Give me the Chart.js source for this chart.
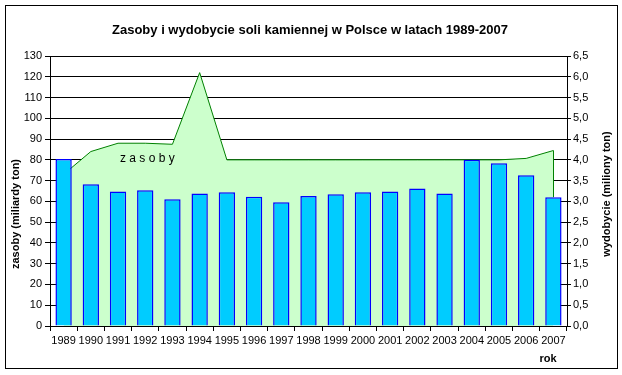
<!DOCTYPE html>
<html>
<head>
<meta charset="utf-8">
<script src="https://cdn.jsdelivr.net/npm/chart.js@4"></script>
<style>
  body { margin: 0; background: #fff; }
  #wrap { width: 622px; height: 375px; position: relative; }
</style>
</head>
<body>
<div id="wrap"><canvas id="myChart" width="622" height="375"></canvas></div>
<script>
// dane
var lata = ['1989','1990','1991','1992','1993','1994','1995','1996','1997','1998',
            '1999','2000','2001','2002','2003','2004','2005','2006','2007'];
// wydobycie, miliony ton (prawa os)
var wydobycie = [4.02, 3.41, 3.24, 3.27, 3.05, 3.19, 3.22, 3.11, 2.98, 3.13,
                 3.17, 3.22, 3.24, 3.31, 3.19, 4.0, 3.92, 3.63, 3.10];
// zasoby, miliardy ton (lewa os)
var zasoby = [73, 84, 88, 88, 87.5, 122, 80, 80, 80, 80,
              80, 80, 80, 80, 80, 80, 80, 80.7, 84.5];

var FONT = 'Arial, "Liberation Sans", sans-serif';

// ramka, tytuly osi, napis "z a s o b y"
var extras = {
  id: 'extras',
  afterDatasetsDraw(chart) {
    var c = chart.ctx, x = chart.scales.x, yL = chart.scales.yL, yR = chart.scales.yR;
    c.save();
    // pionowa krawedz obszaru przy 2007
    var n = zasoby.length - 1;
    var px = Math.round(x.getPixelForValue(n)) + 0.5;
    c.strokeStyle = '#008000';
    c.lineWidth = 1;
    c.beginPath();
    c.moveTo(px, yL.getPixelForValue(zasoby[n]));
    c.lineTo(px, yR.getPixelForValue(wydobycie[n]));
    c.stroke();

    c.fillStyle = '#000';
    c.font = '12px ' + FONT;
    c.textBaseline = 'middle';
    c.textAlign = 'left';
    c.fillText('z a s o b y', x.getPixelForValue(2) + 2, yL.getPixelForValue(80) - 1);
    c.restore();
  },
  afterDraw(chart) {
    var c = chart.ctx;
    c.save();
    c.strokeStyle = '#000';
    c.lineWidth = 1;
    c.strokeRect(5.5, 5.5, 612, 363);

    c.fillStyle = '#000';
    c.font = 'bold 13px ' + FONT;
    c.textAlign = 'center';
    c.textBaseline = 'middle';
    c.fillText('Zasoby i wydobycie soli kamiennej w Polsce w latach 1989-2007', 310, 30);

    c.font = 'bold 11px ' + FONT;
    c.save();
    c.translate(16, 214);
    c.rotate(-Math.PI / 2);
    c.fillText('zasoby (miliardy ton)', 0, 0);
    c.restore();
    c.save();
    c.translate(607, 194);
    c.rotate(-Math.PI / 2);
    c.fillText('wydobycie (miliony ton)', 0, 0);
    c.restore();

    c.fillText('rok', 548, 359);
    c.restore();
  }
};

var ctx = document.getElementById('myChart').getContext('2d');
var myChart = new Chart(ctx, {
  type: 'bar',
  data: {
    labels: lata,
    datasets: [{
      type: 'bar',
      label: 'wydobycie',
      data: wydobycie,
      yAxisID: 'yR',
      backgroundColor: '#00CCFF',
      borderColor: '#0000FF',
      borderWidth: 1.5,
      barPercentage: 0.6,
      categoryPercentage: 1,
      order: 0
    }, {
      type: 'line',
      label: 'zasoby',
      data: zasoby,
      yAxisID: 'yL',
      fill: 'origin',
      backgroundColor: '#CCFFCC',
      borderColor: '#008000',
      borderWidth: 1,
      pointRadius: 0,
      tension: 0,
      order: 1
    }]
  },
  options: {
    responsive: false,
    animation: false,
    layout: { padding: { top: 56, left: 0, right: 0, bottom: 0 } },
    plugins: {
      legend: { display: false },
      title: { display: false },
      tooltip: { enabled: false }
    },
    scales: {
      x: {
        offset: true,
        grid: { display: true, drawOnChartArea: false, offset: true, color: '#000', tickLength: 5 },
        border: { display: true, color: '#000' },
        ticks: { color: '#000', font: { family: FONT, size: 11 }, padding: 3, maxRotation: 0, autoSkip: false },
        afterFit(s) { s.height = 49; }
      },
      yL: {
        position: 'left',
        min: 0, max: 130,
        ticks: { stepSize: 10, color: '#000', font: { family: FONT, size: 11 }, padding: 3 },
        grid: { color: '#000', lineWidth: 1, tickLength: 5 },
        border: { display: true, color: '#000' },
        afterFit(s) { s.width = 50; }
      },
      yR: {
        position: 'right',
        min: 0, max: 6.5,
        ticks: {
          stepSize: 0.5, color: '#000', font: { family: FONT, size: 11 }, padding: 2,
          callback: function (v) { return v.toFixed(1).replace('.', ','); }
        },
        grid: { drawOnChartArea: false, color: '#000', tickLength: 4 },
        border: { display: true, color: '#000' },
        afterFit(s) { s.width = 55; }
      }
    }
  },
  plugins: [extras]
});
</script>
</body>
</html>
